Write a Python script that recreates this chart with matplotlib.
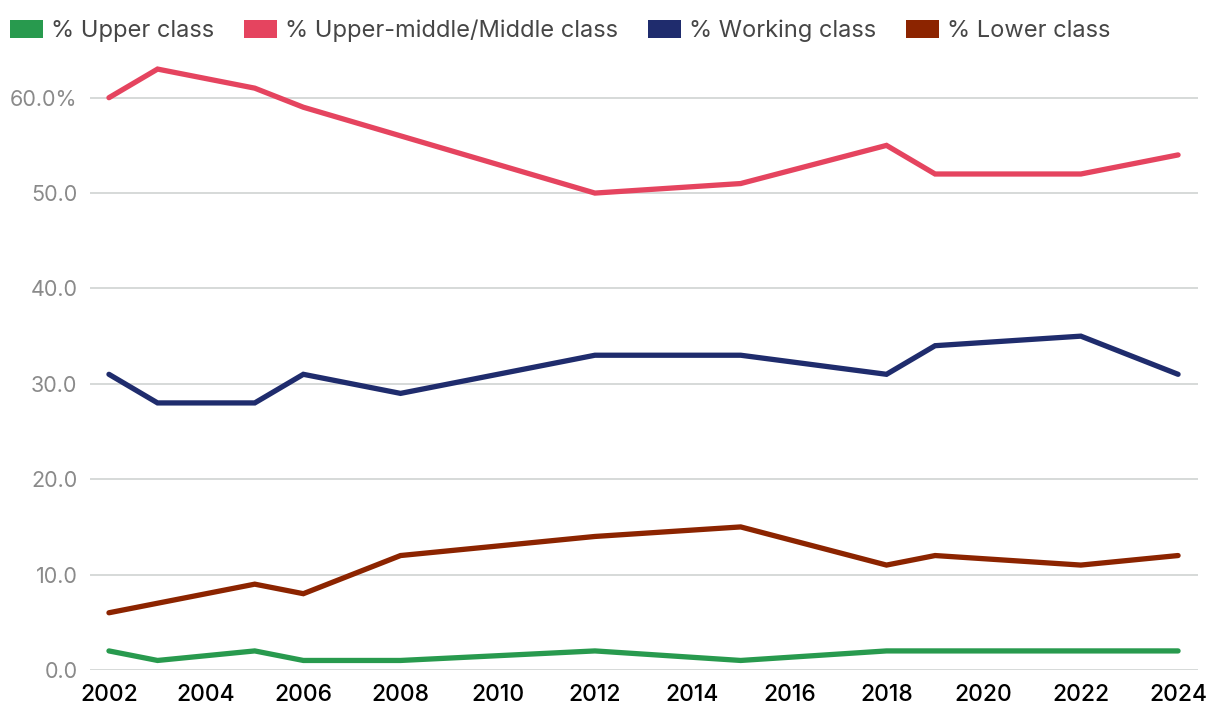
import matplotlib.pyplot as plt
from matplotlib.patches import Patch
from matplotlib.ticker import FuncFormatter

plt.rcParams['font.family'] = ['Inter', 'DejaVu Sans']

# data
years = [2002, 2003, 2005, 2006, 2008, 2012, 2015, 2018, 2019, 2022, 2024]
upper = [2, 1, 2, 1, 1, 2, 1, 2, 2, 2, 2]
middle = [60, 63, 61, 59, 56, 50, 51, 55, 52, 52, 54]
working = [31, 28, 28, 31, 29, 33, 33, 31, 34, 35, 31]
lower = [6, 7, 9, 8, 12, 14, 15, 11, 12, 11, 12]

labels = ["% Upper class", "% Upper-middle/Middle class", "% Working class", "% Lower class"]
colors = ["#289a4e", "#e5445f", "#1f2c6d", "#8c2400"]

fig = plt.figure(figsize=(12.2, 7.2), dpi=100)
ax = fig.add_axes([90 / 1220, 50 / 720, 1108 / 1220, 620 / 720])

for vals, c in zip([upper, middle, working, lower], colors):
    ax.plot(years, vals, color=c, lw=3.8, solid_capstyle='round', solid_joinstyle='miter', zorder=3)

ax.set_xlim(2001.61, 2024.41)
ax.set_ylim(0, 65)
ax.set_xticks(range(2002, 2025, 2))
ax.set_yticks(range(0, 61, 10))
ax.yaxis.set_major_formatter(FuncFormatter(lambda v, p: f"{v:.1f}%" if v == 60 else f"{v:.1f}"))

ax.grid(axis='y', color='#d3d7d6', lw=1.3)
for s in ax.spines.values():
    s.set_visible(False)
ax.tick_params(length=0)
ax.tick_params(axis='y', labelsize=15.5, labelcolor='#8a8a8a', pad=9)
ax.tick_params(axis='x', labelsize=16.5, labelcolor='#000000', pad=10)
for lbl in ax.get_xticklabels():
    lbl.set_fontweight('medium')

handles = [Patch(facecolor=c, edgecolor='none') for c in colors]
fig.legend(handles, labels, loc='center left', bbox_to_anchor=(10 / 1220, 1 - 31 / 720), ncol=4,
           frameon=False, fontsize=17, labelcolor='#464646', handlelength=1.4, handleheight=0.84,
           handletextpad=0.35, columnspacing=1.25, borderaxespad=0, borderpad=0)

fig.savefig("out.png", dpi=100)
